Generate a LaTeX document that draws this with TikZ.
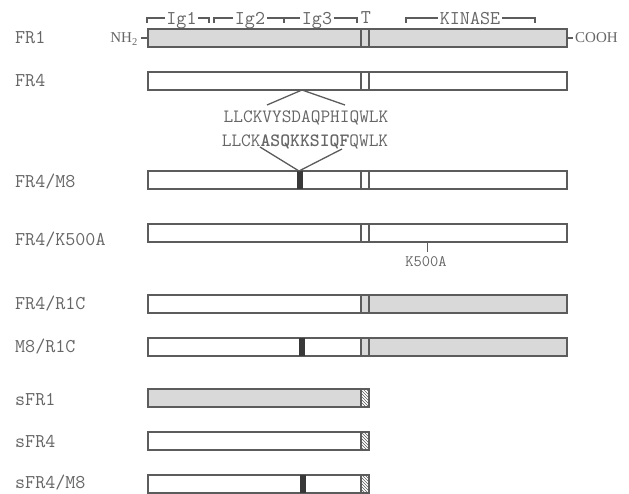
\documentclass[tikz,border=0pt]{standalone}
\usepackage{fontspec}
\setmainfont{Liberation Serif}
\usetikzlibrary{patterns}
\definecolor{ink}{gray}{0.40}
\definecolor{linegray}{gray}{0.36}
\definecolor{domgray}{gray}{0.85}
\definecolor{mutblk}{gray}{0.22}

\begin{document}
\begin{tikzpicture}[x=1pt,y=-1pt,
  lab/.style={anchor=west,inner sep=0pt,text=ink,font=\ttfamily\fontsize{19.5}{22}\selectfont},
  brk/.style={inner sep=1.5pt,text depth=0pt,text=ink,font=\ttfamily\fontsize{19.5}{22}\selectfont},
  brace/.style={draw=linegray,line width=1.1pt},
  bar/.style={draw=linegray,line width=1.3pt},
  link/.style={draw=linegray,line width=1.3pt},
  seq/.style={anchor=base,inner sep=0pt,text=ink,font=\ttfamily\fontsize{18.8}{21}\selectfont},
  term/.style={inner sep=0pt,text=ink,font=\fontsize{15}{17}\selectfont}]
\path[use as bounding box] (0,0) rectangle (629,494);

% row labels
\node[lab] (fr1)   at (15,38)  {FR1};
\node[lab] (fr4)   at (15,81)  {FR4};
\node[lab] (m8)    at (15,182) {FR4/M8};
\node[lab] (k500)  at (15,240) {FR4/K500A};
\node[lab] (r1c)   at (15,304) {FR4/R1C};
\node[lab] (m8r1c) at (15,347) {M8/R1C};
\node[lab] (sfr1)  at (15,400) {sFR1};
\node[lab] (sfr4)  at (15,442) {sFR4};
\node[lab] (sm8)   at (15,483) {sFR4/M8};

% domain brackets
\node[brk] (igone)   at (181.5,18) {Ig1};
\node[brk] (igtwo)   at (250,18)   {Ig2};
\node[brk] (igthree) at (317,18)   {Ig3};
\node[brk] (tm)      at (366,18)   {T};
\node[brk] (kin)     at (470,18)   {KINASE};
\coordinate (igsplit) at (284,18);
\draw[brace] (147,23) |- (igone.west);
\draw[brace] (igone.east) -| (209,23);
\draw[brace] (214,23) |- (igtwo.west);
\draw[brace] (igtwo.east) -- (igthree.west);
\draw[brace] (igsplit) -- ++(0,5);
\draw[brace] (igthree.east) -| (357,23);
\draw[brace] (406,23) |- (kin.west);
\draw[brace] (kin.east) -| (535,23);

% gray regions
\fill[domgray] (148,29) rectangle (567,47);
\fill[domgray] (361,295) rectangle (567,313);
\fill[domgray] (361,338) rectangle (567,356);
\fill[domgray] (148,389) rectangle (361,407);

% full length bars
\foreach \t in {29,72,171,224,295,338}
  \draw[bar] (148,\t) rectangle (567,\t+18) (361,\t) -- ++(0,18) (369,\t) -- ++(0,18);

% soluble forms
\foreach \t in {389,432,475}{
  \fill[pattern=north west lines,pattern color=linegray] (361,\t) rectangle (369,\t+18);
  \draw[bar] (148,\t) rectangle (369,\t+18) (361,\t) -- ++(0,18);
}

% M8 insertions
\fill[mutblk] (297,171) rectangle (303,189);
\fill[mutblk] (299,338) rectangle (305,356);
\fill[mutblk] (300,475) rectangle (306,493);

% termini
\node[term,anchor=base east] (nh)   at (138,43) {NH\textsubscript{2}};
\node[term,anchor=base west] (cooh) at (575,43) {COOH};
\coordinate (nhend) at (148,38);
\coordinate (coend) at (567,38);
\draw[link] (nhend) -- ++(-7,0);
\draw[link] (coend) -- ++(6,0);

% sequence detail
\node[seq] (seqwt)  at (306,123) {LLCKVYSDAQPHIQWLK};
\node[seq] (seqmut) at (305,147) {LLCK\textbf{ASQKKSIQF}QWLK};
\coordinate (wtapex)  at (302,90);
\coordinate (wtleft)  at (267,105);
\coordinate (wtright) at (345,105);
\coordinate (mutapex) at (299,171);
\coordinate (mutleft)  at (260,147);
\coordinate (mutright) at (342,149);
\draw[link] (wtleft) -- (wtapex) -- (wtright);
\draw[link] (mutleft) -- (mutapex) -- (mutright);

% point mutation
\node[term,anchor=base,font=\ttfamily\fontsize{16}{18}\selectfont] (kpt) at (426,267) {K500A};
\coordinate (ktick) at (427,242);
\draw[link,line width=1pt] (ktick) -- ++(0,10);
\end{tikzpicture}
\end{document}
